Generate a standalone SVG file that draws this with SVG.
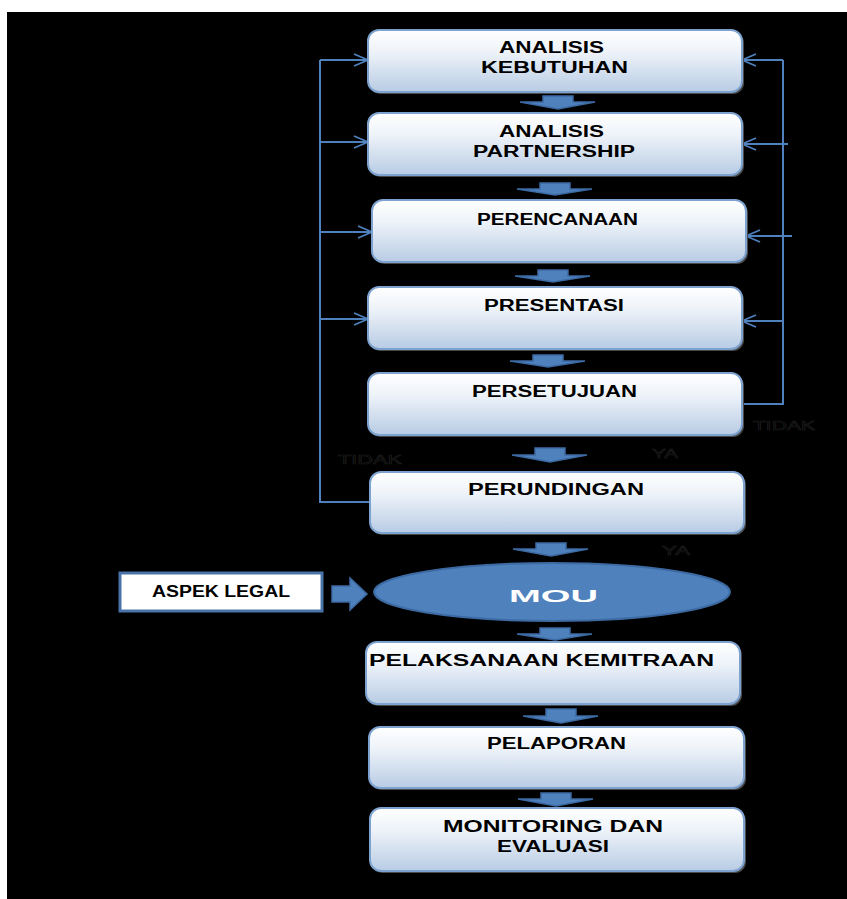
<svg xmlns="http://www.w3.org/2000/svg" width="847" height="899" viewBox="0 0 847 899">
  <defs>
    <linearGradient id="boxFill" x1="0" y1="0" x2="0" y2="1">
      <stop offset="0" stop-color="#ffffff"/>
      <stop offset="0.35" stop-color="#eef3f9"/>
      <stop offset="1" stop-color="#b8cce4"/>
    </linearGradient>
    <marker id="chev" viewBox="0 0 16 14" refX="15" refY="7" markerWidth="16" markerHeight="14" markerUnits="userSpaceOnUse" orient="auto">
      <path d="M1,1 L15,7 L1,13" fill="none" stroke="#4f81bd" stroke-width="1.8"/>
    </marker>
  </defs>
  <style>
    .box { fill: url(#boxFill); stroke: #7ea2cf; stroke-width: 2; }
    .shadow { fill: #4a4a4a; }
    .lbl { font-family: "Liberation Sans", Arial, sans-serif; font-weight: bold; font-size: 16px; fill: #000; }
    .faint { font-family: "Liberation Sans", Arial, sans-serif; font-size: 13px; fill: #000; stroke: #1e1e1e; stroke-width: 0.6; }
    .flow { fill: #4f81bd; stroke: #3c6aa3; stroke-width: 1.5; }
    .link { fill: none; stroke: #4f81bd; stroke-width: 2; }
  </style>

  <!-- page -->
  <rect x="0" y="0" width="847" height="899" fill="#ffffff"/>
  <rect x="7" y="12" width="840" height="887" fill="#000000"/>

  <!-- feedback connectors -->
  <g id="connectors">
    <!-- left loop: back from PERUNDINGAN -->
    <polyline class="link" points="370,502 320,502 320,60"/>
    <line class="link" x1="320" y1="60" x2="368" y2="60" marker-end="url(#chev)"/>
    <line class="link" x1="320" y1="142" x2="368" y2="142" marker-end="url(#chev)"/>
    <line class="link" x1="320" y1="232" x2="372" y2="232" marker-end="url(#chev)"/>
    <line class="link" x1="320" y1="319" x2="368" y2="319" marker-end="url(#chev)"/>
    <!-- right loop: back from PERSETUJUAN -->
    <polyline class="link" points="742,404 783,404 783,60"/>
    <line class="link" x1="783" y1="60" x2="742" y2="60" marker-end="url(#chev)"/>
    <line class="link" x1="788" y1="144" x2="742" y2="144" marker-end="url(#chev)"/>
    <line class="link" x1="792" y1="236" x2="746" y2="236" marker-end="url(#chev)"/>
    <line class="link" x1="783" y1="321" x2="742" y2="321" marker-end="url(#chev)"/>

    <!-- down flow arrows -->
    <path class="flow" d="M543,96 H573 V102 H595 L558,109 L520,102 H543 Z"/>
    <path class="flow" d="M540,183 H570 V189 H592 L555,195 L517,189 H540 Z"/>
    <path class="flow" d="M538,270 H568 V276 H590 L553,282 L515,276 H538 Z"/>
    <path class="flow" d="M533,355 H563 V361 H585 L548,367 L510,361 H533 Z"/>
    <path class="flow" d="M535,448 H565 V455 H587 L550,462 L512,455 H535 Z"/>
    <path class="flow" d="M536,543 H566 V549 H588 L551,556 L513,549 H536 Z"/>
    <path class="flow" d="M540,628 H570 V634 H592 L555,640 L517,634 H540 Z"/>
    <path class="flow" d="M546,709 H576 V716 H598 L561,723 L523,716 H546 Z"/>
    <path class="flow" d="M541,793 H571 V799 H593 L556,806 L518,799 H541 Z"/>
    <!-- ASPEK LEGAL into MOU -->
    <path class="flow" d="M332,586 H350 V578 L367,594 L350,610 V602 H332 Z"/>
  </g>

  <!-- decision labels, drawn dark on the black page -->
  <g id="labels">
    <text class="faint" x="338" y="464" textLength="64" lengthAdjust="spacingAndGlyphs">TIDAK</text>
    <text class="faint" x="652" y="458" textLength="26" lengthAdjust="spacingAndGlyphs">YA</text>
    <text class="faint" x="753" y="430" textLength="62" lengthAdjust="spacingAndGlyphs">TIDAK</text>
    <text class="faint" x="662" y="555" textLength="28" lengthAdjust="spacingAndGlyphs">YA</text>
  </g>

  <g id="analisis-kebutuhan">
    <rect class="shadow" x="370" y="32" width="374" height="62" rx="11"/>
    <rect class="box" x="368" y="30" width="374" height="62" rx="11"/>
    <text class="lbl" x="499" y="53" textLength="105" lengthAdjust="spacingAndGlyphs">ANALISIS</text>
    <text class="lbl" x="481" y="73" textLength="147" lengthAdjust="spacingAndGlyphs">KEBUTUHAN</text>
  </g>

  <g id="analisis-partnership">
    <rect class="shadow" x="370" y="115" width="374" height="62" rx="11"/>
    <rect class="box" x="368" y="113" width="374" height="62" rx="11"/>
    <text class="lbl" x="499" y="137" textLength="105" lengthAdjust="spacingAndGlyphs">ANALISIS</text>
    <text class="lbl" x="473" y="157" textLength="162" lengthAdjust="spacingAndGlyphs">PARTNERSHIP</text>
  </g>

  <g id="perencanaan">
    <rect class="shadow" x="374" y="202" width="374" height="62" rx="11"/>
    <rect class="box" x="372" y="200" width="374" height="62" rx="11"/>
    <text class="lbl" x="477" y="225" textLength="161" lengthAdjust="spacingAndGlyphs">PERENCANAAN</text>
  </g>

  <g id="presentasi">
    <rect class="shadow" x="370" y="289" width="374" height="62" rx="11"/>
    <rect class="box" x="368" y="287" width="374" height="62" rx="11"/>
    <text class="lbl" x="484" y="311" textLength="140" lengthAdjust="spacingAndGlyphs">PRESENTASI</text>
  </g>

  <g id="persetujuan">
    <rect class="shadow" x="370" y="375" width="374" height="62" rx="11"/>
    <rect class="box" x="368" y="373" width="374" height="62" rx="11"/>
    <text class="lbl" x="472" y="397" textLength="165" lengthAdjust="spacingAndGlyphs">PERSETUJUAN</text>
  </g>

  <g id="perundingan">
    <rect class="shadow" x="372" y="474" width="374" height="61" rx="11"/>
    <rect class="box" x="370" y="472" width="374" height="61" rx="11"/>
    <text class="lbl" x="468" y="495" textLength="176" lengthAdjust="spacingAndGlyphs">PERUNDINGAN</text>
  </g>

  <g id="aspek-legal">
    <rect x="120" y="573" width="202" height="38" fill="#ffffff" stroke="#4a74a8" stroke-width="3"/>
    <text class="lbl" x="152" y="597" font-size="15" textLength="138" lengthAdjust="spacingAndGlyphs">ASPEK LEGAL</text>
  </g>

  <g id="mou">
    <ellipse cx="552" cy="592" rx="178" ry="29" fill="#4f81bd" stroke="#3c6aa3" stroke-width="2"/>
    <text class="lbl" x="509" y="602" font-size="27" style="fill:#ffffff" textLength="89" lengthAdjust="spacingAndGlyphs">MOU</text>
  </g>

  <g id="pelaksanaan-kemitraan">
    <rect class="shadow" x="368" y="644" width="374" height="62" rx="11"/>
    <rect class="box" x="366" y="642" width="374" height="62" rx="11"/>
    <text class="lbl" x="369" y="666" textLength="345" lengthAdjust="spacingAndGlyphs">PELAKSANAAN KEMITRAAN</text>
  </g>

  <g id="pelaporan">
    <rect class="shadow" x="371" y="729" width="375" height="61" rx="11"/>
    <rect class="box" x="369" y="727" width="375" height="61" rx="11"/>
    <text class="lbl" x="487" y="749" textLength="139" lengthAdjust="spacingAndGlyphs">PELAPORAN</text>
  </g>

  <g id="monitoring-evaluasi">
    <rect class="shadow" x="372" y="810" width="374" height="63" rx="11"/>
    <rect class="box" x="370" y="808" width="374" height="63" rx="11"/>
    <text class="lbl" x="443" y="832" textLength="220" lengthAdjust="spacingAndGlyphs">MONITORING DAN</text>
    <text class="lbl" x="497" y="852" textLength="112" lengthAdjust="spacingAndGlyphs">EVALUASI</text>
  </g>
</svg>
